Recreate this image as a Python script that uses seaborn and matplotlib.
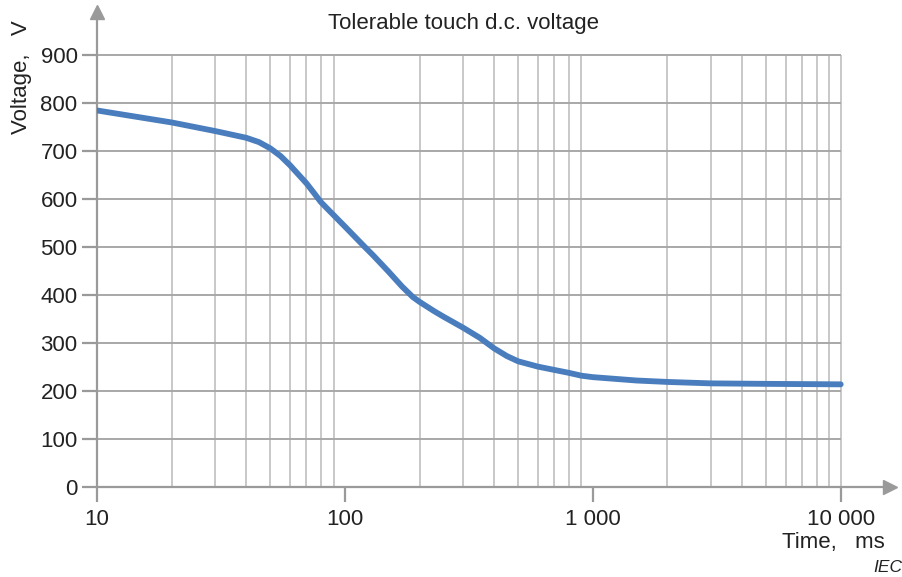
import matplotlib
matplotlib.use("Agg")
import matplotlib.pyplot as plt
import seaborn as sns
import pandas as pd

# values
time_ms = [10, 20, 30, 40, 45, 50, 55, 60, 70, 75, 80, 85, 90, 100, 120, 130,
           150, 170, 188, 200, 230, 250, 300, 350, 400, 450, 500, 600, 700, 800,
           900, 1000, 1500, 2000, 3000, 5000, 10000]
voltage = [785, 760, 742, 728, 719, 706, 690, 671, 633, 613, 594, 580, 567, 543,
           501, 483, 449, 418, 396, 386, 366, 355, 332, 311, 289, 273, 262, 251,
           244, 238, 232, 229, 222, 219, 216, 215, 214]

y_ticks = [0, 100, 200, 300, 400, 500, 600, 700, 800, 900]
x_ticks = [10, 100, 1000, 10000]
x_labels = ["10", "100", "1 000", "10 000"]

sns.set_theme(style="white")
plt.rcParams["font.family"] = ["Liberation Sans", "DejaVu Sans"]

df = pd.DataFrame({"t": time_ms, "v": voltage})

fig = plt.figure(figsize=(9.03, 5.77), dpi=100)
ax = fig.add_axes([0.1074, 0.156, 0.878, 0.823])
ax.set_xscale("log")
ax.set_xlim(10, 15780)
ax.set_ylim(0, 990)

# grid inside the 10..10000 x 0..900 box
grid_x = [m * 10 ** e for e in range(1, 4) for m in range(2, 10)] + [10000]
ax.vlines(grid_x, 0, 900, colors="#c8c8c8", lw=1.4, zorder=1)
ax.hlines(y_ticks[1:], 10, 10000, colors="#a8a8a8", lw=1.4, zorder=1)

sns.lineplot(data=df, x="t", y="v", ax=ax, color="#4a7dbd", lw=4.2, zorder=3)

for s in ["top", "right"]:
    ax.spines[s].set_visible(False)
for s in ["left", "bottom"]:
    ax.spines[s].set_color("#9a9a9a")
    ax.spines[s].set_linewidth(1.6)

# axis arrow heads
ax.plot(1, 0, ">", transform=ax.get_yaxis_transform(), color="#9a9a9a",
        ms=10, clip_on=False, zorder=4)
ax.plot(10, 1, "^", transform=ax.get_xaxis_transform(), color="#9a9a9a",
        ms=10, clip_on=False, zorder=4)

ax.set_yticks(y_ticks)
ax.set_xticks(x_ticks)
ax.set_xticklabels(x_labels)
ax.xaxis.set_minor_locator(matplotlib.ticker.NullLocator())
ax.tick_params(axis="both", which="major", length=11, width=1.6, color="#9a9a9a",
               labelsize=16, labelcolor="#222222", direction="out", left=True, bottom=True)
ax.tick_params(axis="x", pad=5)
ax.tick_params(axis="y", pad=3)
ax.set_xlabel("")
ax.set_ylabel("")

fig.text(0.513, 0.960, "Tolerable touch d.c. voltage", ha="center", va="center",
         fontsize=16, color="#222222")
fig.text(0.024, 0.866, "Voltage,   V", rotation=90, ha="center", va="center",
         fontsize=16, color="#222222")
fig.text(0.923, 0.059, "Time,   ms", ha="center", va="center",
         fontsize=16, color="#222222")
fig.text(0.999, 0.016, "IEC", ha="right", va="center", fontsize=12.5,
         style="italic", color="#222222")

fig.savefig("out.png", dpi=100)
